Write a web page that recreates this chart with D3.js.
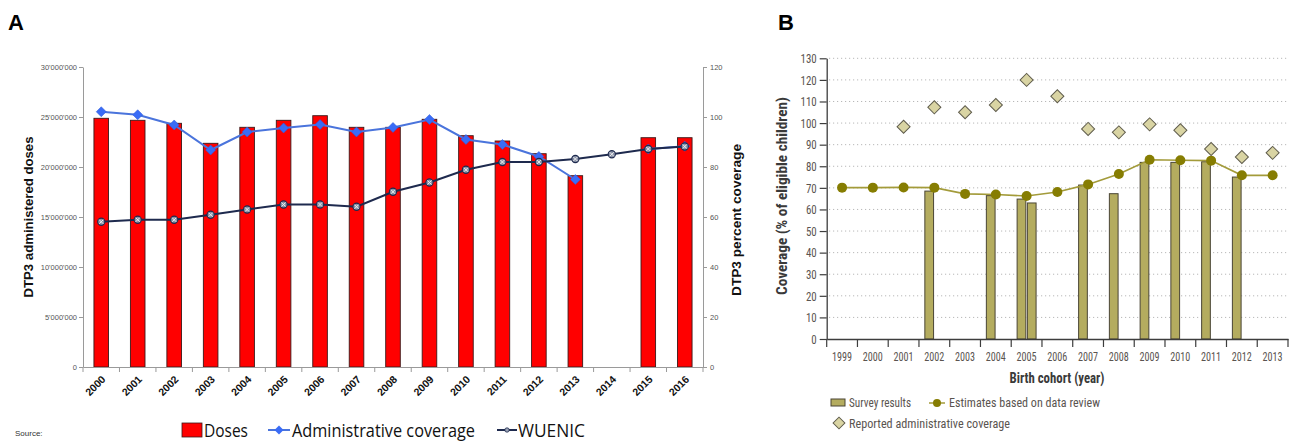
<!DOCTYPE html>
<html><head><meta charset="utf-8">
<script src="https://cdn.jsdelivr.net/npm/d3@7"></script>
<style>
html,body{margin:0;padding:0;background:#fff;}
svg{display:block;}
</style></head>
<body>
<svg id="c" width="1293" height="443"></svg>
<script>
// ---------- Panel A data ----------
const yearsA = ["2000","2001","2002","2003","2004","2005","2006","2007","2008","2009","2010","2011","2012","2013","2014","2015","2016"];
const doses = [24.87e6, 24.67e6, 24.37e6, 22.37e6, 23.97e6, 24.67e6, 25.13e6, 23.97e6, 23.97e6, 24.77e6, 23.13e6, 22.6e6, 21.33e6, 19.13e6, null, 22.93e6, 22.93e6];
const adminCoverage = [102.1, 100.9, 96.8, 86.8, 94.0, 95.6, 97.0, 94.0, 95.8, 99.0, 91.0, 89.0, 84.2, 75.0, null, 87.2, 88.3];
const wuenic = [58.1, 58.9, 58.9, 60.9, 63.0, 65.0, 65.0, 64.1, 70.1, 73.8, 78.9, 82.0, 82.0, 83.2, 85.1, 87.2, 88.2];
const leftTicks = [0, 5e6, 10e6, 15e6, 20e6, 25e6, 30e6];
const rightTicks = [0, 20, 40, 60, 80, 100, 120];

// ---------- Panel B data ----------
const yearsB = ["1999","2000","2001","2002","2003","2004","2005","2006","2007","2008","2009","2010","2011","2012","2013"];
const surveyFirst = [null, null, null, 68.5, null, 66.4, 64.8, null, 71.3, 67.3, 81.8, 81.8, 82.1, 75.0, null];
const surveySecond = [null, null, null, null, null, null, 63.0, null, null, null, null, null, null, null, null];
const estimates = [70.1, 70.1, 70.2, 70.1, 67.2, 66.9, 66.2, 68.1, 71.6, 76.4, 83.0, 82.8, 82.6, 75.8, 75.8];
const reported = [null, null, 98.3, 107.3, 105.0, 108.4, 120.0, 112.4, 97.3, 95.7, 99.4, 96.7, 88.0, 84.3, 86.2];
const ticksB = [0,10,20,30,40,50,60,70,80,90,100,110,120,130];

const svg = d3.select("#c");
const narrow = "'Liberation Sans Narrow','Roboto Condensed','Arial Narrow',Roboto,sans-serif";

// ================= PANEL A =================
const A = svg.append("g");
A.append("text").attr("x", 8).attr("y", 30).text("A")
  .attr("font-family","Liberation Sans, Arial, sans-serif").attr("font-weight","bold").attr("font-size",22);

const xA = d3.scaleBand().domain(yearsA).range([83, 703]).padding(0);
const yL = d3.scaleLinear().domain([0, 30e6]).range([367, 67]);
const yR = d3.scaleLinear().domain([0, 120]).range([367, 67]);
const barW = xA.bandwidth() * 0.4;

// bars
A.append("g").selectAll("rect").data(yearsA.map((y,i)=>({y, v: doses[i]})).filter(d=>d.v!=null))
  .join("rect")
  .attr("x", d => xA(d.y) + xA.bandwidth()/2 - barW/2)
  .attr("width", barW)
  .attr("y", d => yL(d.v))
  .attr("height", d => yL(0) - yL(d.v))
  .attr("fill", "#ff0000").attr("stroke", "#3a1a1a").attr("stroke-width", 0.9);

// left axis
const fmtApos = v => d3.format(",")(v).replace(/,/g, "'");
const gL = A.append("g").attr("transform","translate(83,0)")
  .call(d3.axisLeft(yL).tickValues(leftTicks).tickFormat(fmtApos).tickSize(4).tickSizeOuter(0));
gL.select(".domain").attr("stroke","#9a9a9a");
gL.selectAll(".tick line").attr("stroke","#9a9a9a");
gL.selectAll(".tick text").attr("font-family","Liberation Sans, sans-serif")
  .attr("font-size",7.5).attr("fill","#555").attr("x",-6);

// right axis
const gR = A.append("g").attr("transform","translate(703,0)")
  .call(d3.axisRight(yR).tickValues(rightTicks).tickSize(4).tickSizeOuter(0));
gR.select(".domain").attr("stroke","#9a9a9a");
gR.selectAll(".tick line").attr("stroke","#9a9a9a");
gR.selectAll(".tick text").attr("font-family","Liberation Sans, sans-serif")
  .attr("font-size",7.5).attr("fill","#555").attr("x",7);

// bottom axis
const gB = A.append("g").attr("transform","translate(0,367)")
  .call(d3.axisBottom(xA).tickSize(0).tickSizeOuter(0));
gB.select(".domain").attr("stroke","#9a9a9a");
gB.selectAll(".tick text")
  .attr("font-family","Liberation Sans, Arial, sans-serif").attr("font-weight","bold")
  .attr("font-size",10.5).attr("fill","#111")
  .attr("text-anchor","end").attr("dy",0).attr("y",0)
  .attr("transform","translate(5,13) rotate(-45)");
A.append("g").selectAll("line").data(yearsA.concat(["__end"]))
  .join("line")
  .attr("x1",(d,i)=> i<yearsA.length ? xA(d) : xA.range()[1])
  .attr("x2",(d,i)=> i<yearsA.length ? xA(d) : xA.range()[1])
  .attr("y1",367).attr("y2",372).attr("stroke","#9a9a9a");

// admin coverage line
const cx = (d) => xA(d.y) + xA.bandwidth()/2;
const adminData = yearsA.map((y,i)=>({y, v: adminCoverage[i]}));
const wuData = yearsA.map((y,i)=>({y, v: wuenic[i]}));
const lineR = d3.line().defined(d=>d.v!=null).x(cx).y(d=>yR(d.v));
A.append("path").datum(adminData).attr("d", lineR).attr("fill","none")
  .attr("stroke","#4a74dc").attr("stroke-width",2);
A.append("g").selectAll("path").data(adminData.filter(d=>d.v!=null)).join("path")
  .attr("transform", d=>`translate(${cx(d)},${yR(d.v)}) rotate(45)`)
  .attr("d", d3.symbol().type(d3.symbolSquare).size(50))
  .attr("fill","#3a6cf6").attr("stroke","#2d5ad8").attr("stroke-width",0.5);

// WUENIC line
A.append("path").datum(wuData).attr("d", lineR).attr("fill","none")
  .attr("stroke","#1e2a4e").attr("stroke-width",2);
const wm = A.append("g").selectAll("g").data(wuData).join("g")
  .attr("transform", d=>`translate(${cx(d)},${yR(d.v)})`);
wm.append("circle").attr("r",3.6).attr("fill","#8a93a8").attr("stroke","#1e2a4e").attr("stroke-width",1.1);
wm.append("path").attr("d","M-2,-2L2,2M-2,2L2,-2").attr("stroke","#f0f0f0").attr("stroke-width",1);

// axis titles
A.append("text").attr("transform","translate(33,217) rotate(-90)").attr("text-anchor","middle")
  .attr("font-family","Liberation Sans, Arial, sans-serif").attr("font-weight","bold").attr("font-size",12)
  .attr("textLength",161).attr("lengthAdjust","spacingAndGlyphs")
  .attr("fill","#111").text("DTP3 administered doses");
A.append("text").attr("transform","translate(741,220) rotate(-90)").attr("text-anchor","middle")
  .attr("font-family","Liberation Sans, Arial, sans-serif").attr("font-weight","bold").attr("font-size",12)
  .attr("textLength",152).attr("lengthAdjust","spacingAndGlyphs")
  .attr("fill","#111").text("DTP3 percent coverage");

// legend A
const LA = A.append("g");
LA.append("rect").attr("x",182).attr("y",423).attr("width",20).attr("height",14)
  .attr("fill","#ff0000").attr("stroke","#3a1a1a").attr("stroke-width",0.8);
LA.append("text").attr("x",204).attr("y",437).text("Doses")
  .attr("font-family","'Open Sans', 'Liberation Sans', sans-serif").attr("font-size",18)
  .attr("textLength",44).attr("lengthAdjust","spacingAndGlyphs").attr("fill","#111");
LA.append("line").attr("x1",268).attr("x2",290).attr("y1",430).attr("y2",430).attr("stroke","#4a74dc").attr("stroke-width",2);
LA.append("path").attr("transform","translate(279,430) rotate(45)").attr("d", d3.symbol().type(d3.symbolSquare).size(40)).attr("fill","#3a6cf6");
LA.append("text").attr("x",292).attr("y",437).text("Administrative coverage")
  .attr("font-family","'Open Sans', 'Liberation Sans', sans-serif").attr("font-size",18)
  .attr("textLength",183).attr("lengthAdjust","spacingAndGlyphs").attr("fill","#111");
LA.append("line").attr("x1",497).attr("x2",517).attr("y1",430).attr("y2",430).attr("stroke","#1e2a4e").attr("stroke-width",2);
LA.append("circle").attr("cx",507).attr("cy",430).attr("r",2.2).attr("fill","#9aa3b5").attr("stroke","#1e2a4e").attr("stroke-width",0.8);
LA.append("text").attr("x",518).attr("y",437).text("WUENIC")
  .attr("font-family","'Open Sans', 'Liberation Sans', sans-serif").attr("font-size",18)
  .attr("textLength",67).attr("lengthAdjust","spacingAndGlyphs").attr("fill","#111");

A.append("text").attr("x",15).attr("y",436).text("Source:")
  .attr("font-family","'Liberation Sans', sans-serif").attr("font-size",8).attr("fill","#333");

// ================= PANEL B =================
const B = svg.append("g");
B.append("text").attr("x", 778).attr("y", 30).text("B")
  .attr("font-family","Liberation Sans, Arial, sans-serif").attr("font-weight","bold").attr("font-size",22);

const xB = d3.scaleBand().domain(yearsB).range([826.7, 1288]).padding(0);
const yB = d3.scaleLinear().domain([0,130]).range([339, 58.3]);
const sub = d3.scaleBand().domain([0,1]).range([-10, 10]).paddingInner(0.15).paddingOuter(0.05);

// grid
B.append("g").selectAll("line").data(ticksB.filter(t=>t>0)).join("line")
  .attr("x1",829).attr("x2",1288).attr("y1",d=>yB(d)).attr("y2",d=>yB(d))
  .attr("stroke","#b8b8b8").attr("stroke-width",1).attr("stroke-dasharray","1.2,2.8");

// survey bars
const barsB = [];
yearsB.forEach((y,i)=>{
  if (surveyFirst[i]!=null) barsB.push({y, s:0, v:surveyFirst[i]});
  if (surveySecond[i]!=null) barsB.push({y, s:1, v:surveySecond[i]});
});
B.append("g").selectAll("rect").data(barsB).join("rect")
  .attr("x", d => xB(d.y) + xB.bandwidth()/2 + sub(d.s))
  .attr("width", sub.bandwidth())
  .attr("y", d => yB(d.v))
  .attr("height", d => yB(0) - yB(d.v))
  .attr("fill","#b4ac5f").attr("stroke","#4a4535").attr("stroke-width",1);

// y axis
const gYB = B.append("g").attr("transform","translate(826.7,0)")
  .call(d3.axisLeft(yB).tickValues(ticksB).tickSize(7).tickSizeOuter(0));
gYB.select(".domain").attr("stroke","#3d3d3d").attr("stroke-width",1.3);
gYB.selectAll(".tick line").attr("stroke","#3d3d3d").attr("stroke-width",1.2);
gYB.selectAll(".tick text").attr("font-family",narrow).attr("font-size",13.5).attr("fill","#5a5450").attr("x",-10)
  .each(function(d){ d3.select(this).attr("textLength", String(d).length*5.4).attr("lengthAdjust","spacingAndGlyphs"); });

// x axis
const gXB = B.append("g").attr("transform","translate(0,339)")
  .call(d3.axisBottom(xB).tickSize(0).tickSizeOuter(0));
gXB.select(".domain").attr("stroke","#3d3d3d").attr("stroke-width",1.3);
gXB.selectAll(".tick text").attr("font-family",narrow).attr("font-size",13.5).attr("fill","#5a5450").attr("y",12).attr("dy","0.71em")
  .attr("textLength",20).attr("lengthAdjust","spacingAndGlyphs");
B.append("g").selectAll("line").data(yearsB.concat(["__end"])).join("line")
  .attr("x1",(d,i)=> i<yearsB.length ? xB(d) : xB.range()[1])
  .attr("x2",(d,i)=> i<yearsB.length ? xB(d) : xB.range()[1])
  .attr("y1",339).attr("y2",347).attr("stroke","#3d3d3d").attr("stroke-width",1.2);

// estimates line + dots
const cxB = d => xB(d.y) + xB.bandwidth()/2;
const estData = yearsB.map((y,i)=>({y, v: estimates[i]}));
B.append("path").datum(estData)
  .attr("d", d3.line().x(cxB).y(d=>yB(d.v)))
  .attr("fill","none").attr("stroke","#a39b3a").attr("stroke-width",1.6);
B.append("g").selectAll("circle").data(estData).join("circle")
  .attr("cx",cxB).attr("cy",d=>yB(d.v)).attr("r",5).attr("fill","#867d02");

// reported diamonds
const repData = yearsB.map((y,i)=>({y, v: reported[i]})).filter(d=>d.v!=null);
B.append("g").selectAll("path").data(repData).join("path")
  .attr("transform", d=>`translate(${cxB(d)},${yB(d.v)}) rotate(45)`)
  .attr("d", d3.symbol().type(d3.symbolSquare).size(85))
  .attr("fill","#d9d4a3").attr("stroke","#5f5c4c").attr("stroke-width",1);

// titles
B.append("text").attr("transform","translate(787,196) rotate(-90)").attr("text-anchor","middle")
  .attr("font-family",narrow).attr("font-weight","bold").attr("font-size",15).attr("fill","#3a3a3a")
  .attr("textLength",198).attr("lengthAdjust","spacingAndGlyphs")
  .text("Coverage (% of eligible children)");
B.append("text").attr("x",1057).attr("y",383).attr("text-anchor","middle")
  .attr("font-family",narrow).attr("font-weight","bold").attr("font-size",15).attr("fill","#3a3a3a")
  .attr("textLength",95).attr("lengthAdjust","spacingAndGlyphs")
  .text("Birth cohort (year)");

// legend B
const LB = B.append("g").attr("font-family",narrow).attr("font-size",13.5).attr("fill","#5a5450");
LB.append("rect").attr("x",831).attr("y",399).attr("width",14).attr("height",7)
  .attr("fill","#b4ac5f").attr("stroke","#4a4535").attr("stroke-width",1);
LB.append("text").attr("x",849).attr("y",407).attr("textLength",62).attr("lengthAdjust","spacingAndGlyphs").text("Survey results");
LB.append("line").attr("x1",929).attr("x2",945).attr("y1",403).attr("y2",403).attr("stroke","#a39b3a").attr("stroke-width",1.5);
LB.append("circle").attr("cx",937).attr("cy",403).attr("r",4).attr("fill","#867d02");
LB.append("text").attr("x",949).attr("y",407).attr("textLength",151).attr("lengthAdjust","spacingAndGlyphs").text("Estimates based on data review");
LB.append("path").attr("transform","translate(839,423) rotate(45)")
  .attr("d", d3.symbol().type(d3.symbolSquare).size(70))
  .attr("fill","#d9d4a3").attr("stroke","#5f5c4c").attr("stroke-width",1);
LB.append("text").attr("x",849).attr("y",428).attr("textLength",161).attr("lengthAdjust","spacingAndGlyphs").text("Reported administrative coverage");
</script>
</body></html>
